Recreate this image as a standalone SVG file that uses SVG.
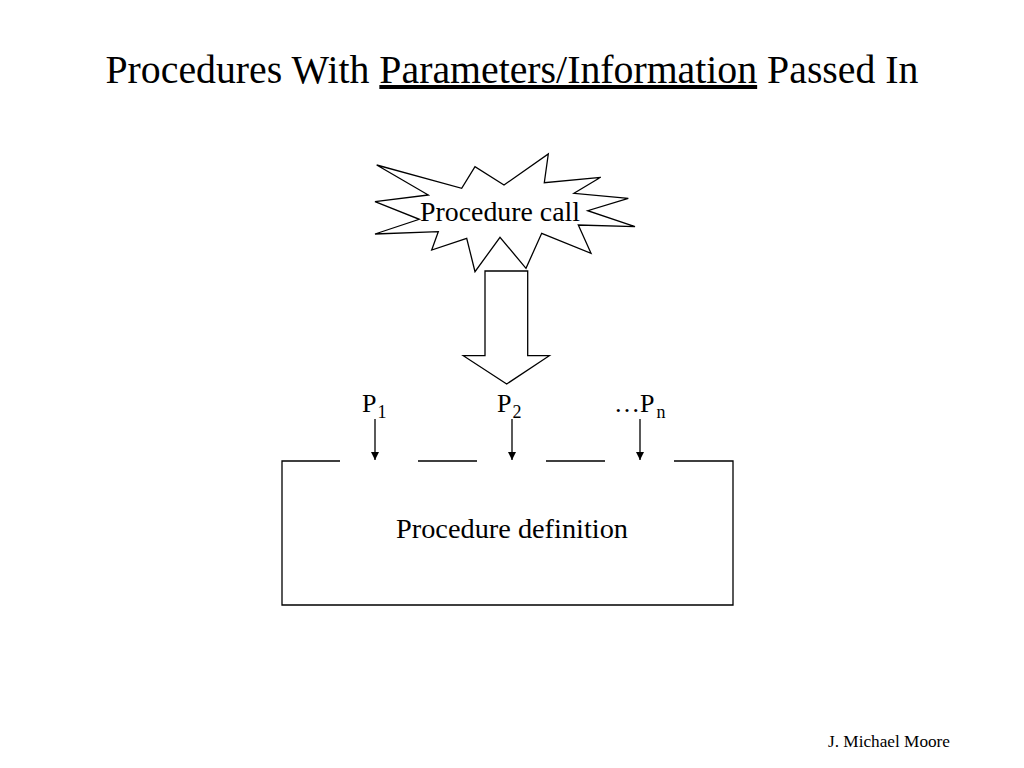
<svg xmlns="http://www.w3.org/2000/svg" width="1024" height="768" viewBox="0 0 1024 768">
<defs>
<style>
text{font-family:"Liberation Serif","Times New Roman",serif;fill:#000}
.shape{fill:#fff;stroke:#000;stroke-width:1.3}
.line{fill:none;stroke:#000;stroke-width:1.3}
.lbl{font-size:28px}
.par{font-size:26px}
.sub{font-size:18px}
</style>
<marker id="ah" viewBox="0 0 10 10" refX="10" refY="5" markerWidth="8" markerHeight="8" markerUnits="userSpaceOnUse" orient="auto">
<path d="M0,0 L10,5 L0,10 z" fill="#000"/>
</marker>
</defs>
<rect width="1024" height="768" fill="#fff"/>
<g id="title">
<text x="512" y="83" font-family="Liberation Serif, serif" font-size="40" text-anchor="middle" textLength="813" lengthAdjust="spacingAndGlyphs">Procedures With <tspan text-decoration="underline">Parameters/Information</tspan> Passed In</text>
</g>
<g id="call">
<polygon class="shape" points="376.7,165 461.7,188.3 475,166.7 504,185 548.3,154 544.3,182.7 600.7,177.3 574,193.3 628.3,198.3 587.7,210.7 635,226.7 578.3,225 591,253.3 541.7,233.3 526,268.3 500,237.3 475,271.7 466.7,238.3 431.7,250 438.3,231.7 375,234 419.3,219.3 375,201.7 428.3,195"/>
<text class="lbl" font-family="Liberation Serif, serif" x="500" y="221" text-anchor="middle" textLength="160" lengthAdjust="spacingAndGlyphs">Procedure call</text>
</g>
<g id="connectors">
<polygon class="shape" points="485,271 527.7,271 527.7,355.7 549.3,355.7 506.7,384 463.3,355.7 485,355.7"/>
<line class="line" x1="375" y1="419" x2="375" y2="460" marker-end="url(#ah)"/>
<line class="line" x1="512" y1="419" x2="512" y2="460" marker-end="url(#ah)"/>
<line class="line" x1="640" y1="419" x2="640" y2="460" marker-end="url(#ah)"/>
</g>
<g id="params">
<text class="par" font-family="Liberation Serif, serif" x="362" y="412">P<tspan class="sub" dx="1" dy="6">1</tspan></text>
<text class="par" font-family="Liberation Serif, serif" x="497" y="412">P<tspan class="sub" dx="1" dy="6">2</tspan></text>
<text class="par" font-family="Liberation Serif, serif" x="614" y="412">…P<tspan class="sub" dx="2" dy="6">n</tspan></text>
</g>
<g id="definition">
<path class="line" d="M340,461 H282 V605 H733 V461 H674 M418,461 H477 M546,461 H605"/>
<text class="lbl" font-family="Liberation Serif, serif" x="512" y="538" text-anchor="middle" textLength="232" lengthAdjust="spacingAndGlyphs">Procedure definition</text>
</g>
<g id="footer">
<text x="889" y="747" font-family="Liberation Serif, serif" font-size="17" text-anchor="middle" textLength="122" lengthAdjust="spacingAndGlyphs">J. Michael Moore</text>
</g>
</svg>
